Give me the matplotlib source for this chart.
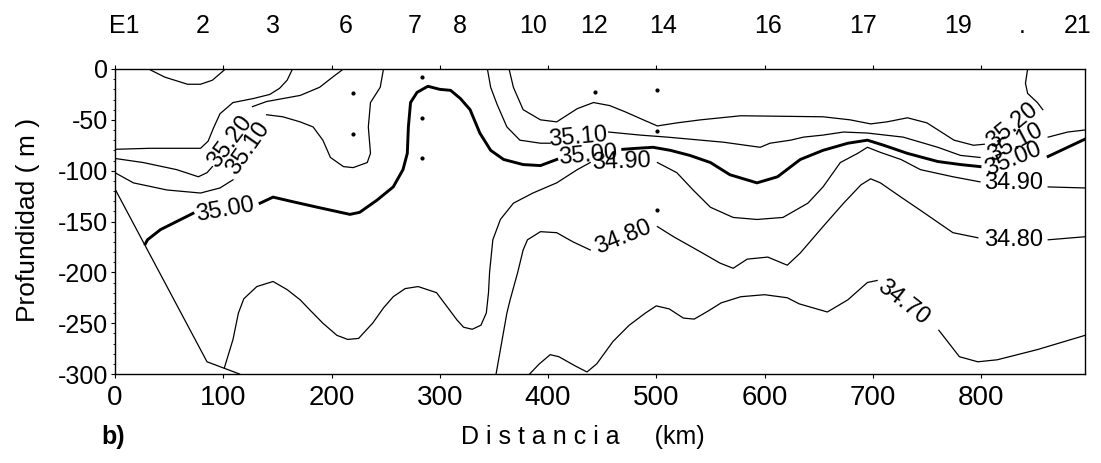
import numpy as np
import matplotlib.pyplot as plt
from matplotlib.ticker import MultipleLocator

# --------- Datos: isolineas de salinidad (distancia km, profundidad m) ---------
iso_sup = [(31, 0), (46, -8), (67, -15), (79, -15), (90, -11), (102, 0)]
iso_3530 = [(0, -79), (32, -78), (60, -78), (79, -78), (86, -71), (91, -58), (97, -44),
            (109, -33), (128, -29), (143, -25), (152, -19), (159, -11), (164, 0)]
iso_3520_a = [(0, -88), (26, -92), (57, -99), (77, -106), (85, -102), (90, -96)]
iso_3520_b = [(127, -37), (140, -32), (171, -26), (189, -18), (201, -8), (211, 0)]
iso_3520_c = [(364, 0), (368, -18), (377, -40), (393, -50), (408, -52), (427, -39), (442, -33),
              (457, -36), (471, -42), (488, -50), (501, -56), (519, -53), (541, -50), (578, -46),
              (654, -47), (679, -50), (698, -54), (713, -52), (732, -48), (750, -53), (775, -70),
              (793, -75), (803, -74)]
iso_3520_d = [(857, -40), (852, -33), (843, -24), (841, -14), (843, 0)]
iso_3510_a = [(0, -102), (17, -112), (48, -119), (79, -122), (97, -117), (109, -109)]
iso_3510_b = [(140, -45), (155, -47), (171, -52), (183, -57), (192, -70), (199, -87), (211, -96),
              (220, -97), (233, -92), (236, -83), (234, -57), (236, -33), (245, -18), (248, 0)]
iso_3510_c = [(344, 0), (347, -18), (353, -35), (362, -57), (374, -70), (393, -73), (402, -73)]
iso_3510_d = [(456, -62), (485, -65), (510, -67), (531, -69), (562, -72), (596, -77), (605, -73),
              (624, -70), (636, -67), (654, -65), (673, -62), (695, -63), (728, -67), (760, -77),
              (781, -85), (799, -87)]
iso_3510_e = [(862, -67), (880, -62), (896, -60)]
iso_3500_a = [(28, -172), (30, -168), (42, -158), (57, -150), (72, -142)]
iso_3500_b = [(134, -132), (146, -126), (162, -130), (187, -136), (217, -143), (226, -141),
              (242, -129), (257, -116), (266, -99), (270, -83), (271, -57), (273, -33), (279, -23),
              (289, -17), (300, -20), (310, -21), (319, -29), (328, -40), (337, -63), (347, -80),
              (359, -89), (377, -94), (393, -95), (408, -89)]
iso_3500_c = [(469, -79), (482, -78), (497, -77), (513, -80), (531, -85), (550, -92), (568, -104),
              (593, -112), (612, -106), (633, -89), (654, -80), (677, -73), (695, -70), (710, -75),
              (732, -83), (760, -91), (781, -94), (799, -96)]
iso_3500_d = [(862, -86), (880, -77), (896, -69)]
iso_3490_a = [(101, -294), (105, -280), (109, -266), (114, -240), (119, -226), (131, -214),
              (146, -209), (159, -217), (171, -227), (180, -237), (192, -250), (205, -262),
              (215, -266), (225, -265), (238, -250), (248, -235), (257, -224), (268, -216),
              (280, -214), (297, -220), (309, -237), (316, -247), (322, -254), (330, -256),
              (338, -252), (343, -240), (345, -220), (346, -200), (349, -168), (356, -148),
              (368, -132), (386, -122), (408, -112), (427, -99), (439, -92)]
iso_3490_b = [(501, -92), (519, -102), (534, -119), (550, -136), (571, -146), (593, -148),
              (617, -146), (640, -132), (654, -116), (670, -92), (686, -83), (695, -77), (707, -82),
              (726, -89), (744, -99), (774, -106), (799, -111)]
iso_3490_c = [(862, -116), (896, -117)]
iso_3480_a = [(352, -300), (357, -270), (362, -240), (365, -227), (372, -200), (377, -178),
              (381, -168), (393, -160), (408, -161), (423, -170), (439, -178)]
iso_3480_b = [(501, -155), (516, -165), (541, -180), (559, -191), (571, -196), (584, -187),
              (603, -185), (621, -193), (633, -181), (654, -155), (673, -132), (689, -114),
              (698, -108), (707, -112), (726, -126), (744, -139), (774, -161), (797, -166)]
iso_3480_c = [(862, -168), (896, -165)]
iso_3470_a = [(383, -300), (392, -290), (402, -281), (410, -283), (425, -292), (436, -298),
              (445, -290), (460, -268), (475, -252), (490, -240), (500, -233), (512, -236),
              (525, -245), (535, -246), (548, -238), (560, -230), (578, -224), (600, -222),
              (621, -225), (632, -231), (658, -239), (677, -227), (695, -210), (704, -208)]
iso_3470_b = [(761, -257), (780, -283), (797, -288), (815, -286), (852, -276), (896, -262)]
fondo = [(0, -118), (85, -288), (115, -300)]

gruesas = [iso_3500_a, iso_3500_b, iso_3500_c, iso_3500_d]
finas = [iso_sup, iso_3530, iso_3520_a, iso_3520_b, iso_3520_c, iso_3520_d,
         iso_3510_a, iso_3510_b, iso_3510_c, iso_3510_d, iso_3510_e,
         iso_3490_a, iso_3490_b, iso_3490_c, iso_3480_a, iso_3480_b, iso_3480_c,
         iso_3470_a, iso_3470_b, fondo]

# etiquetas de las isolineas
etiquetas = ['35.20', '35.10', '35.00', '35.10', '35.00', '34.90', '34.80',
             '35.20', '35.10', '35.00', '34.90', '34.80', '34.70']
etq_km = [106, 123, 102, 428, 437, 468, 469, 829, 832, 830, 830, 830, 728]
etq_m = [-72, -78, -139, -67, -85, -91, -166, -56, -73, -89, -112, -168, -230]
etq_rot = [53, 55, 10, 5, 5, 2, 22, 39, 28, 22, 0, 0, -38]

# puntos de muestreo
pts_km = [220, 220, 284, 284, 284, 443, 501, 501, 501]
pts_m = [-24, -64, -8, -48, -88, -23, -21, -61, -139]

# estaciones (eje superior)
estaciones = ['E1', '2', '3', '6', '7', '8', '10', '12', '14', '16', '17', '19', '.', '21']
est_km = [9, 81, 146, 213, 277, 319, 386, 442, 506, 603, 691, 779, 838, 889]

# --------- Figura ---------
plt.rcParams['font.family'] = ['Liberation Sans', 'DejaVu Sans']
plt.rcParams['axes.unicode_minus'] = False

fig = plt.figure(figsize=(11.01, 4.63), dpi=100)
ax = fig.add_axes([115 / 1101, 1 - 374 / 463, 970 / 1101, 305 / 463])

for seg in finas:
    s = np.array(seg)
    ax.plot(s[:, 0], s[:, 1], color='black', linewidth=0.9)
for seg in gruesas:
    s = np.array(seg)
    ax.plot(s[:, 0], s[:, 1], color='black', linewidth=2.1)

for txt, xk, ym, rot in zip(etiquetas, etq_km, etq_m, etq_rot):
    ax.text(xk, ym, txt, fontsize=17, rotation=rot, ha='center', va='center',
            rotation_mode='anchor')

ax.scatter(pts_km, pts_m, s=4, color='black', zorder=3)

for txt, xk in zip(estaciones, est_km):
    ax.text(xk, 1.118, txt, transform=ax.get_xaxis_transform(), fontsize=18,
            ha='center', va='baseline')

ax.set_xlim(0, 896)
ax.set_ylim(-300, 0)
ax.yaxis.set_major_locator(MultipleLocator(50))
ax.yaxis.set_minor_locator(MultipleLocator(10))
ax.set_xticks(np.arange(0, 801, 100))
ax.tick_params(axis='x', bottom=True, top=True, direction='out',
               length=3, pad=5, labelsize=20)
ax.tick_params(axis='y', which='major', direction='out', length=3, pad=2, labelsize=18)
ax.tick_params(axis='y', which='minor', direction='out', length=1.5)
for sp in ax.spines.values():
    sp.set_linewidth(1.0)

fig.text(28 / 1101, 1 - 220 / 463, 'Profundidad ( m )', rotation=90, fontsize=19,
         ha='center', va='center')
fig.text(583 / 1101, 1 - 437 / 463, 'D i s t a n c i a     (km)', fontsize=18,
         ha='center', va='center')
fig.text(113 / 1101, 1 - 437 / 463, 'b)', fontsize=18, fontweight='bold',
         ha='center', va='center')

fig.savefig('out.png', dpi=100)
